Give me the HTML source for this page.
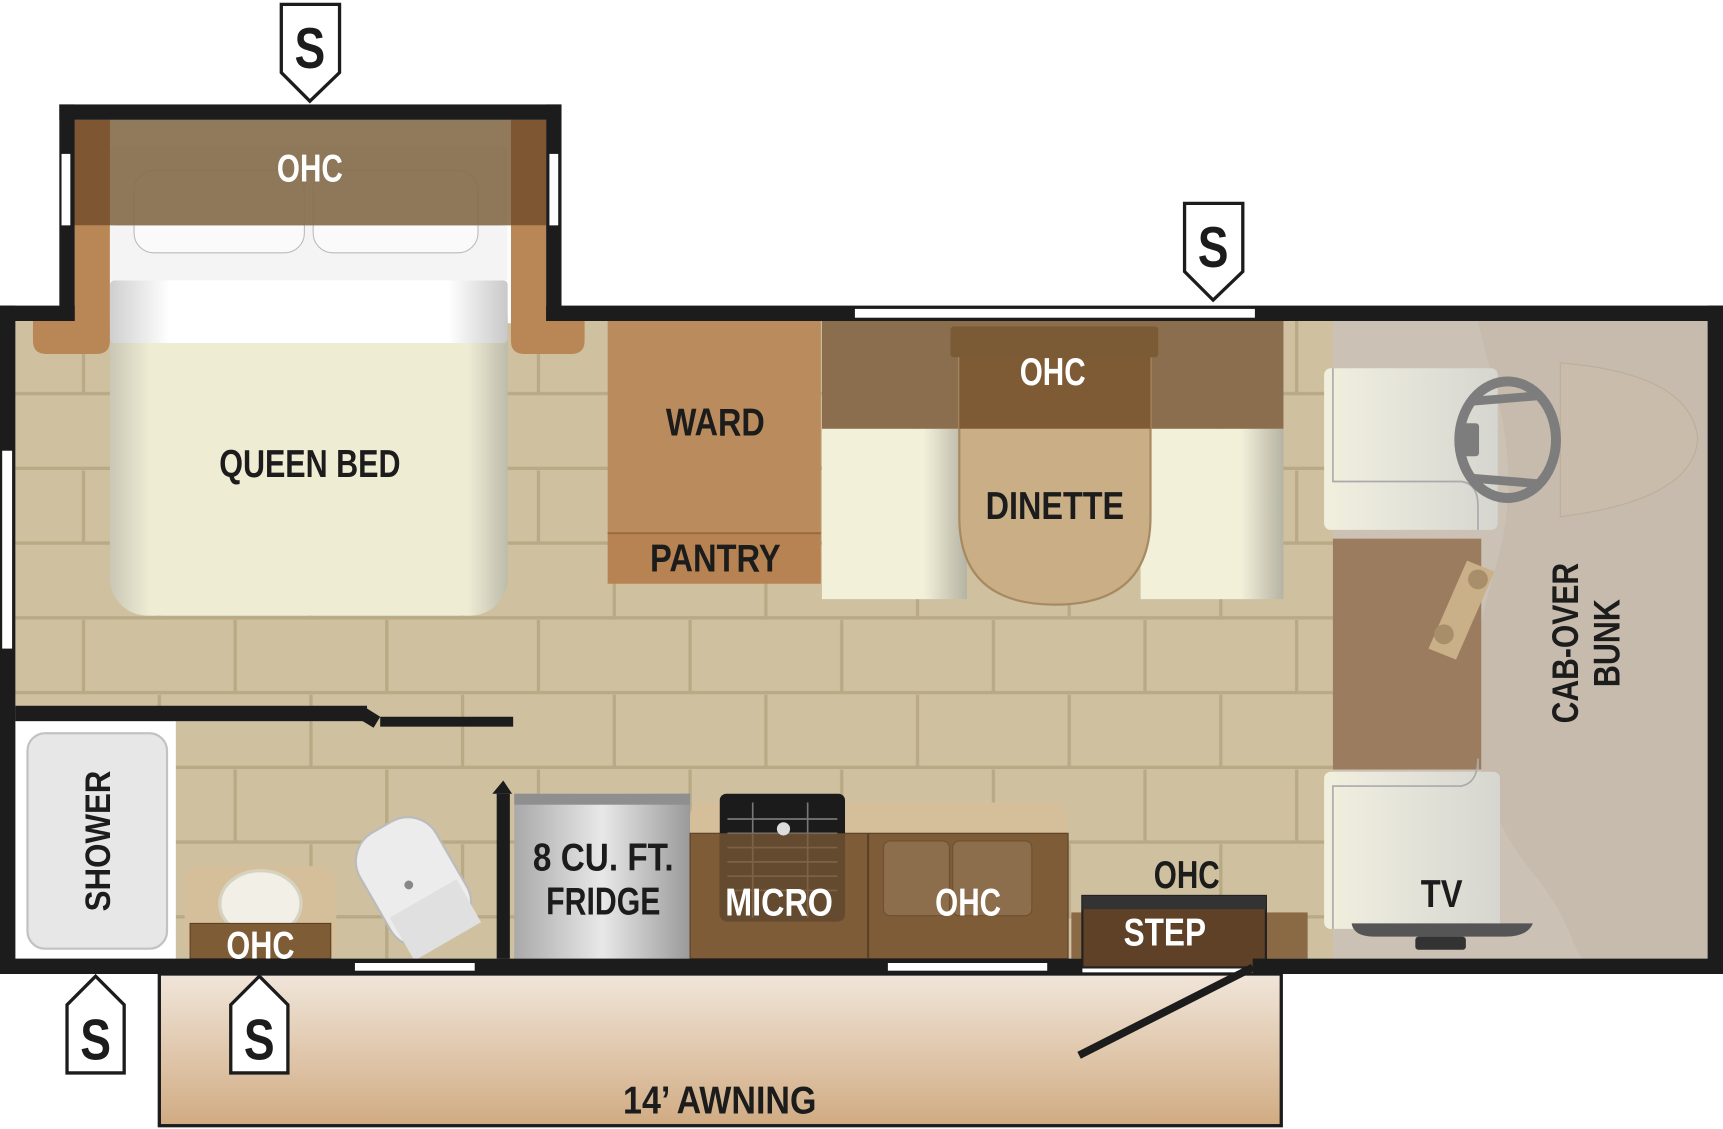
<!DOCTYPE html>
<html><head><meta charset="utf-8"><style>
html,body{margin:0;padding:0;background:#fff;width:1723px;height:1129px;overflow:hidden}
svg{display:block}
text{font-family:"Liberation Sans Narrow","Liberation Sans",sans-serif;font-weight:bold;text-anchor:middle}
</style></head><body>
<svg width="1723" height="1129" viewBox="0 0 1568 1027" preserveAspectRatio="none" xmlns="http://www.w3.org/2000/svg">
<defs>
<linearGradient id="aw" x1="0" y1="0" x2="0" y2="1"><stop offset="0" stop-color="#f1e6da"/><stop offset="1" stop-color="#d0ab82"/></linearGradient>
<linearGradient id="fr" x1="0" y1="0" x2="1" y2="0"><stop offset="0" stop-color="#a9a9a9"/><stop offset=".5" stop-color="#e8e8e8"/><stop offset="1" stop-color="#9a9a9a"/></linearGradient>
<linearGradient id="pl" x1="0" y1="0" x2="1" y2="0"><stop offset="0" stop-color="#cfcfcf"/><stop offset=".15" stop-color="#fff"/><stop offset=".85" stop-color="#fff"/><stop offset="1" stop-color="#c8c8c8"/></linearGradient>
<linearGradient id="bd" x1="0" y1="0" x2="1" y2="0"><stop offset="0" stop-color="#c9c7b5"/><stop offset=".1" stop-color="#efecd4"/><stop offset=".9" stop-color="#efecd4"/><stop offset="1" stop-color="#bdbbaa"/></linearGradient>
<linearGradient id="st" x1="0" y1="0" x2="1" y2="0"><stop offset="0" stop-color="#f3f0da"/><stop offset=".7" stop-color="#f3f0da"/><stop offset="1" stop-color="#b5b3a2"/></linearGradient>
<linearGradient id="cs" x1="0" y1="0" x2="1" y2="0"><stop offset="0" stop-color="#f1efdc"/><stop offset=".3" stop-color="#e9e8dc"/><stop offset="1" stop-color="#d6d6d0"/></linearGradient>
<pattern id="tile" x="14" y="292" width="276" height="136" patternUnits="userSpaceOnUse">
<rect width="276" height="136" fill="#cfc0a0"/>
<path d="M0 66H276M0 134H276M62 0V66M200 0V66M131 68V134M269 68V134" stroke="#b9aa86" stroke-width="3" fill="none"/>
</pattern>
</defs>
<rect x="145" y="886" width="1021" height="138" fill="url(#aw)" stroke="#1c1c1c" stroke-width="3"/>
<rect x="14" y="292" width="1200" height="580" fill="url(#tile)"/>
<rect x="68" y="109" width="429" height="185" fill="#fff"/>
<rect x="1213" y="292" width="341" height="580" fill="#cbc1b4"/>
<path d="M1345 292 C1360 360 1390 420 1360 520 C1330 620 1330 720 1400 800 C1430 840 1430 860 1440 872 L1554 872 L1554 292Z" fill="#c3b7a8" opacity=".6"/>
<path d="M1420 330 Q1540 340 1545 400 Q1540 455 1420 470 Z" fill="#cabcab" stroke="#bbae9d"/>
<rect x="1213" y="490" width="135" height="210" fill="#9c7c5e"/>
<path d="M1335 510 L1360 520 L1325 600 L1300 590 Z" fill="#c9b089"/>
<circle cx="1345" cy="527" r="9" fill="#a98e6a"/><circle cx="1314" cy="577" r="9" fill="#a98e6a"/>
<rect x="1205" y="335" width="158" height="147" rx="6" fill="url(#cs)"/>
<path d="M1213 335 V438 H1330 Q1345 440 1345 460 V482" fill="none" stroke="#aaa" stroke-width="1.5"/>
<rect x="1205" y="702" width="160" height="143" rx="6" fill="url(#cs)"/>
<path d="M1213 845 V715 H1330 Q1345 712 1345 690 V700" fill="none" stroke="#aaa" stroke-width="1.5"/>
<ellipse cx="1372" cy="400" rx="44" ry="53" fill="none" stroke="#7d7d7d" stroke-width="9"/>
<rect x="1332" y="385" width="14" height="30" rx="3" fill="#7d7d7d"/>
<path d="M1340 365 L1400 360 M1340 435 L1400 440" stroke="#7d7d7d" stroke-width="8"/>
<path d="M1230 840 H1395 Q1390 852 1370 852 H1250 Q1232 852 1230 840Z" fill="#555"/>
<rect x="1288" y="852" width="46" height="12" rx="3" fill="#333"/>
<rect x="553" y="292" width="194" height="192" fill="#b98b5d"/>
<rect x="553" y="484" width="194" height="47" fill="#b78352"/>
<line x1="553" y1="485" x2="747" y2="485" stroke="#9c6c40" stroke-width="2"/>
<rect x="748" y="390" width="132" height="155" fill="url(#st)"/>
<rect x="1038" y="390" width="130" height="155" fill="url(#st)"/>
<rect x="748" y="292" width="420" height="98" fill="#8a6e4d"/>
<path d="M873 300 H1047 V470 Q1047 550 960 550 Q873 550 873 470 Z" fill="#c9ae86" stroke="#a88a62" stroke-width="2"/>
<rect x="873" y="300" width="174" height="90" fill="#7e5b35"/>
<rect x="865" y="297" width="189" height="28" rx="3" fill="#7b5a36"/>
<rect x="100" y="255" width="362" height="305" rx="34" fill="url(#bd)"/>
<rect x="100" y="255" width="362" height="57" rx="4" fill="url(#pl)"/>
<rect x="100" y="205" width="362" height="50" fill="#f4f4f4"/>
<rect x="122" y="155" width="155" height="75" rx="18" fill="#fafafa" stroke="#bbb"/>
<rect x="285" y="155" width="150" height="75" rx="18" fill="#fafafa" stroke="#bbb"/>
<rect x="68" y="109" width="429" height="96" fill="#7e6340" opacity=".85"/>
<rect x="100" y="133" width="362" height="72" rx="6" fill="#8e7459" opacity=".6"/>
<path d="M68 109 H100 V205 H68Z M465 109 H497 V205 H465Z" fill="#7e5632"/>
<path d="M68 205 H100 V310 Q100 322 88 322 H42 Q30 322 30 310 V292 H68Z" fill="#b98756"/>
<path d="M465 205 H497 V292 H532 V310 Q532 322 520 322 H477 Q465 322 465 310Z" fill="#b98756"/>
<rect x="14" y="656" width="146" height="216" fill="#fff"/>
<rect x="25" y="667" width="127" height="196" rx="16" fill="#e7e7e7" stroke="#c2c2c2" stroke-width="2"/>
<rect x="168" y="788" width="138" height="84" rx="12" fill="#d5bf9b"/>
<ellipse cx="237" cy="822" rx="37" ry="30" fill="#f1efe6" stroke="#d6d2c0" stroke-width="3"/>
<rect x="173" y="840" width="128" height="32" fill="#7e5c36" stroke="#5c4125"/>
<g transform="rotate(-30 375 800)"><rect x="335" y="745" width="80" height="115" rx="30" fill="#ececec" stroke="#bbb" stroke-width="2"/><rect x="340" y="820" width="70" height="45" fill="#e0e0e0"/></g>
<circle cx="372" cy="805" r="4" fill="#888"/>
<rect x="468" y="722" width="160" height="150" fill="url(#fr)"/>
<rect x="468" y="722" width="160" height="10" fill="#8f8f8f"/>
<rect x="628" y="730" width="344" height="142" rx="12" fill="#d5bf9b"/>
<rect x="628" y="758" width="344" height="114" fill="#7e5c38" stroke="#5c4125"/>
<line x1="790" y1="758" x2="790" y2="872" stroke="#5c4125" stroke-width="2"/>
<rect x="804" y="765" width="60" height="68" rx="6" fill="#8c6d4c" stroke="#6e5030"/>
<rect x="867" y="765" width="72" height="68" rx="6" fill="#8c6d4c" stroke="#6e5030"/>
<rect x="655" y="722" width="114" height="116" rx="6" fill="#1b1b1b"/>
<path d="M662 745 H762 M662 758 H762 M662 771 H762 M662 784 H762 M662 797 H762 M662 810 H762 M685 730 V835 M735 730 V835" stroke="#777" stroke-width="1.5"/>
<rect x="655" y="758" width="114" height="80" fill="#7e5c38" opacity=".75"/>
<circle cx="713" cy="754" r="6" fill="#ddd"/>
<rect x="975" y="830" width="215" height="42" fill="#8a6a45"/>
<rect x="985" y="815" width="167" height="65" fill="#5f4127" stroke="#222" stroke-width="2"/>
<rect x="985" y="815" width="167" height="12" fill="#333"/>
<g fill="#1c1c1c">
<rect x="54" y="95" width="457" height="14"/>
<rect x="54" y="95" width="14" height="197"/>
<rect x="497" y="95" width="14" height="197"/>
<rect x="0" y="278" width="68" height="14"/>
<rect x="497" y="278" width="1071" height="14"/>
<rect x="0" y="278" width="14" height="608"/>
<rect x="1554" y="278" width="14" height="608"/>
<rect x="0" y="872" width="985" height="14"/>
<rect x="1140" y="872" width="428" height="14"/>
<rect x="14" y="642" width="320" height="14"/>
<path d="M330 642 L346 652 L340 662 L330 656Z"/>
<rect x="346" y="652" width="121" height="9"/>
<rect x="452" y="722" width="12" height="150"/>
<path d="M448 722 L458 710 L466 722Z"/>
</g>
<line x1="982" y1="960" x2="1140" y2="880" stroke="#1c1c1c" stroke-width="7"/>
<g fill="#fff">
<rect x="778" y="281" width="364" height="8"/>
<rect x="2" y="410" width="9" height="180"/>
<rect x="56" y="140" width="8" height="65"/>
<rect x="500" y="140" width="8" height="65"/>
<rect x="323" y="876" width="109" height="7"/>
<rect x="808" y="876" width="145" height="7"/>
</g>
<g fill="#fff" stroke="#1c1c1c" stroke-width="3">
<path d="M256 4 H309 V66 L282 92 L256 66Z"/>
<path d="M1078 185 H1131 V247 L1104 273 L1078 247Z"/>
<path d="M61 976 H113 V914 L87 888 L61 914Z"/>
<path d="M210 976 H262 V914 L236 888 L210 914Z"/>
</g>
<g font-size="52" fill="#1c1c1c" style="font-weight:normal">
<text x="282" y="62" textLength="28" lengthAdjust="spacingAndGlyphs">S</text><text x="1104" y="243" textLength="28" lengthAdjust="spacingAndGlyphs">S</text><text x="87" y="964" textLength="28" lengthAdjust="spacingAndGlyphs">S</text><text x="236" y="964" textLength="28" lengthAdjust="spacingAndGlyphs">S</text>
</g>
<g font-size="35" fill="#1c1c1c" lengthAdjust="spacingAndGlyphs">
<text x="282" y="434" textLength="165" lengthAdjust="spacingAndGlyphs">QUEEN BED</text>
<text x="651" y="396" textLength="90" lengthAdjust="spacingAndGlyphs">WARD</text>
<text x="651" y="520" textLength="119" lengthAdjust="spacingAndGlyphs">PANTRY</text>
<text x="960" y="472" textLength="126" lengthAdjust="spacingAndGlyphs">DINETTE</text>
<text x="549" y="792" textLength="128" lengthAdjust="spacingAndGlyphs">8 CU. FT.</text>
<text x="549" y="832" textLength="104" lengthAdjust="spacingAndGlyphs">FRIDGE</text>
<text x="1080" y="808" textLength="60" lengthAdjust="spacingAndGlyphs">OHC</text>
<text x="1312" y="825" textLength="38" lengthAdjust="spacingAndGlyphs">TV</text>
<text x="655" y="1013" textLength="176" lengthAdjust="spacingAndGlyphs">14’ AWNING</text>
</g>
<g font-size="35" fill="#fff">
<text x="282" y="165" textLength="60" lengthAdjust="spacingAndGlyphs">OHC</text>
<text x="958" y="350" textLength="60" lengthAdjust="spacingAndGlyphs">OHC</text>
<text x="709" y="833" textLength="98" lengthAdjust="spacingAndGlyphs">MICRO</text>
<text x="881" y="833" textLength="60" lengthAdjust="spacingAndGlyphs">OHC</text>
<text x="237" y="872" textLength="62" lengthAdjust="spacingAndGlyphs">OHC</text>
<text x="1060" y="860" textLength="75" lengthAdjust="spacingAndGlyphs">STEP</text>
</g>
<text transform="translate(100 765) rotate(-90)" font-size="32" fill="#1c1c1c" textLength="128" lengthAdjust="spacingAndGlyphs" style="font-family:'Liberation Sans',sans-serif">SHOWER</text>
<text transform="translate(1436 585) rotate(-90)" font-size="34" fill="#1c1c1c" textLength="146" lengthAdjust="spacingAndGlyphs">CAB-OVER</text>
<text transform="translate(1474 585) rotate(-90)" font-size="34" fill="#1c1c1c" textLength="80" lengthAdjust="spacingAndGlyphs">BUNK</text>
</svg>
</body></html>
